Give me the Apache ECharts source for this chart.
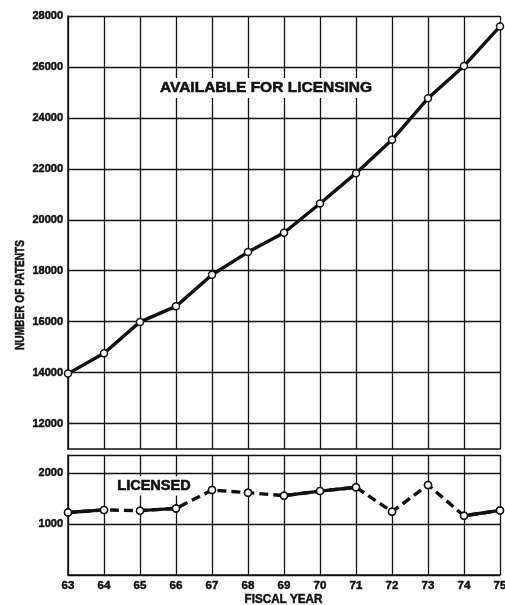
<!DOCTYPE html>
<html>
<head>
<meta charset="utf-8">
<script src="https://cdn.jsdelivr.net/npm/echarts@6/dist/echarts.min.js"></script>
<style>html,body{margin:0;padding:0;background:#fff}#c{width:505px;height:605px}</style>
</head>
<body>
<div id="c"></div>
<script>
const years = ['63','64','65','66','67','68','69','70','71','72','73','74','75'];
const available = [13960, 14760, 15990, 16600, 17840, 18730, 19490, 20640, 21830, 23140, 24770, 26040, 27590];
const licensed = [1230, 1280, 1265, 1310, 1670, 1620, 1560, 1650, 1725, 1245, 1770, 1165, 1270];
const upperTicks = [12000, 14000, 16000, 18000, 20000, 22000, 24000, 26000, 28000];
const lowerTicks = [1000, 2000];
const solidSegments = [[0,1],[2,3],[6,8],[11,12]];

const num = "'Liberation Sans',Arial,sans-serif";
const bold = "'Liberation Sans',Arial,sans-serif";
const ink = '#111';

const chart = echarts.init(document.getElementById('c'), null, {renderer:'canvas'});

const common = {
  type:'line', symbol:'circle', symbolSize:7,
  itemStyle:{color:'#fff', borderColor:ink, borderWidth:1.5},
  lineStyle:{color:ink, width:3.4}, z:5, animation:false
};

const series = [
  {type:'line', xAxisIndex:0, yAxisIndex:0, data:[], z:1, silent:true, animation:false,
   markLine:{silent:true, symbol:'none', label:{show:false}, animation:false,
     lineStyle:{color:ink, width:1.3, type:'solid'},
     data: upperTicks.map(function(v){ return {yAxis:v}; })}},
  Object.assign({}, common, {xAxisIndex:0, yAxisIndex:0, data: available}),
  Object.assign({}, common, {xAxisIndex:1, yAxisIndex:1, data: licensed,
    lineStyle:{color:ink, width:3.4, type:[9,5]}})
];
solidSegments.forEach(function(seg){
  const d = licensed.map(function(v,i){ return (i>=seg[0] && i<=seg[1]) ? v : null; });
  series.push({type:'line', xAxisIndex:1, yAxisIndex:1, data:d, symbol:'none',
    lineStyle:{color:ink, width:3.4}, z:4, animation:false, connectNulls:false});
});
series.push(Object.assign({}, common, {xAxisIndex:1, yAxisIndex:1, data: licensed,
  lineStyle:{width:0, opacity:0}, z:6}));

const labelStyle = {color:ink, fontFamily:num, fontWeight:'bold', fontSize:11, margin:5,
  textBorderColor:ink, textBorderWidth:0.5};

const xBase = {
  type:'category', data: years, boundaryGap:false,
  axisLine:{show:true, lineStyle:{color:ink, width:1.5}},
  axisTick:{show:false},
  splitLine:{show:true, lineStyle:{color:ink, width:1.3}}
};

chart.setOption({
  backgroundColor:'#fff',
  animation:false,
  grid:[
    {left:68, right:5, top:16, height:433, outerBoundsMode:'none', containLabel:false},
    {left:68, right:5, top:455, bottom:30, outerBoundsMode:'none', containLabel:false}
  ],
  xAxis:[
    Object.assign({}, xBase, {gridIndex:0, axisLabel:{show:false}}),
    Object.assign({}, xBase, {gridIndex:1, axisLabel:Object.assign({}, labelStyle, {fontSize:11.5})})
  ],
  yAxis:[
    {type:'value', gridIndex:0, min:11000, max:28000, interval:1000,
     axisLine:{show:true, lineStyle:{color:ink, width:1.5}}, axisTick:{show:false},
     axisLabel:Object.assign({}, labelStyle, {
       formatter:function(v){ return upperTicks.indexOf(v) >= 0 ? String(v) : ''; }}),
     splitLine:{show:false}},
    {type:'value', gridIndex:1, min:0, max:2360, interval:1000,
     axisLine:{show:true, lineStyle:{color:ink, width:1.5}}, axisTick:{show:false},
     axisLabel:Object.assign({}, labelStyle, {
       formatter:function(v){ return lowerTicks.indexOf(v) >= 0 ? String(v) : ''; }}),
     splitLine:{show:true, lineStyle:{color:ink, width:1.3}}}
  ],
  graphic:[
    {type:'text', x:266, y:88, z:10, style:{text:'AVAILABLE FOR LICENSING', fill:ink, stroke:ink, lineWidth:0.6, font:'bold 15.5px '+bold, align:'center', verticalAlign:'middle', backgroundColor:'#fff', padding:[2,2]}},
    {type:'text', x:154, y:486, z:10, style:{text:'LICENSED', fill:ink, stroke:ink, lineWidth:0.6, font:'bold 14.5px '+bold, align:'center', verticalAlign:'middle', backgroundColor:'#fff', padding:[2,2]}},
    {type:'text', x:283.5, y:599, scaleX:0.9, style:{text:'FISCAL YEAR', fill:ink, stroke:ink, lineWidth:0.5, font:'bold 13px '+bold, align:'center', verticalAlign:'middle'}},
    {type:'text', x:20, y:295, rotation:Math.PI/2, scaleX:0.78, style:{text:'NUMBER OF PATENTS', fill:ink, stroke:ink, lineWidth:0.5, font:'bold 13px '+bold, align:'center', verticalAlign:'middle'}}
  ],
  series: series
});
</script>
</body>
</html>
